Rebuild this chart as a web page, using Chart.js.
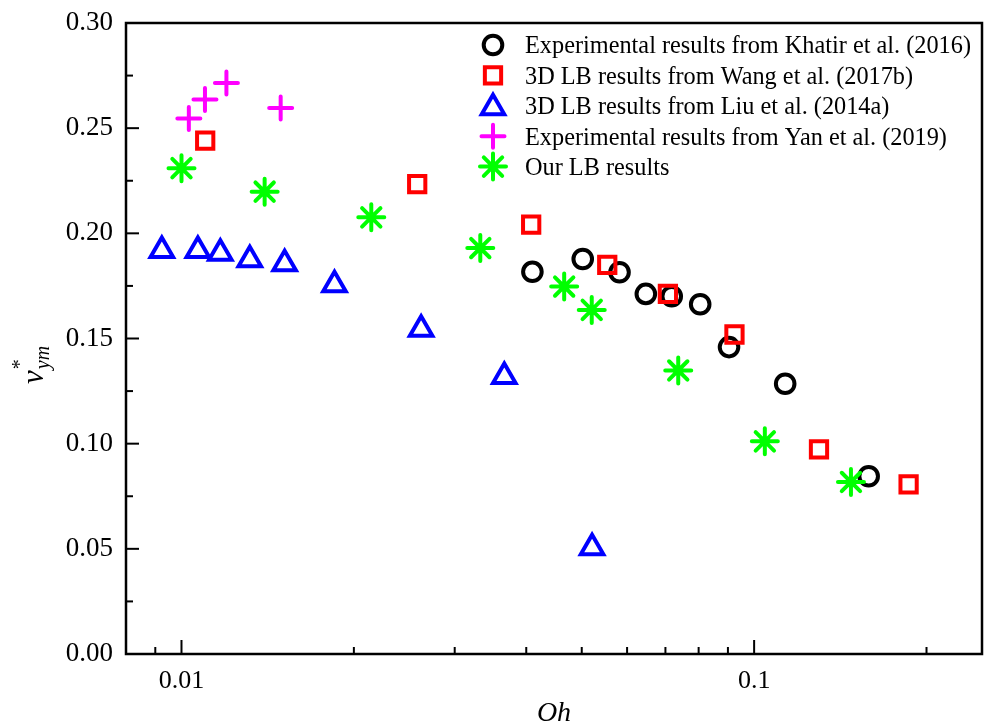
<!DOCTYPE html>
<html>
<head>
<meta charset="utf-8">
<script src="https://cdn.jsdelivr.net/npm/chart.js@4.4.1/dist/chart.umd.min.js"></script>
<style>
    html, body { margin: 0; padding: 0; background: #fff; overflow: hidden; }
    canvas { display: block; }
</style>
</head>
<body>
<canvas id="chart" width="988" height="724"></canvas>
<script>
// Data (Oh, v*_ym)
const khatirOh = [0.0410, 0.0502, 0.0582, 0.0647, 0.0718, 0.0805, 0.0904, 0.1133, 0.1585];
const khatirV  = [0.1817, 0.1878, 0.1815, 0.1712, 0.1701, 0.1663, 0.1459, 0.1285, 0.0845];

const wangOh = [0.0110, 0.0258, 0.0408, 0.0554, 0.0707, 0.0924, 0.1298, 0.1861];
const wangV  = [0.2441, 0.2234, 0.2041, 0.1850, 0.1712, 0.1519, 0.0973, 0.0806];

const liuOh = [0.00924, 0.01068, 0.01169, 0.01316, 0.01514, 0.01850, 0.02621, 0.03662, 0.05212];
const liuV  = [0.1918, 0.1918, 0.1905, 0.1874, 0.1855, 0.1755, 0.1544, 0.1319, 0.0505];

const yanOh = [0.01030, 0.01099, 0.01198, 0.01490];
const yanV  = [0.2546, 0.2636, 0.2715, 0.2596];

const oursOh = [0.01000, 0.01397, 0.02145, 0.03325, 0.04659, 0.05205, 0.07370, 0.1044, 0.1476];
const oursV  = [0.2310, 0.2198, 0.2076, 0.1930, 0.1747, 0.1636, 0.1348, 0.1011, 0.0818];

const seriesLabels = [
    'Experimental results from Khatir et al. (2016)',
    '3D LB results from Wang et al. (2017b)',
    '3D LB results from Liu et al. (2014a)',
    'Experimental results from Yan et al. (2019)',
    'Our LB results'
];

// Axis ticks
const xTickValues = [0.009, 0.01, 0.02, 0.03, 0.04, 0.05, 0.06, 0.07, 0.08, 0.09, 0.1, 0.2];
const xMajorTicks = [0.01, 0.1];
const yTickStep = 0.025;

const serif = '"Liberation Serif", "Times New Roman", serif';

function pairs(xs, ys) {
    return xs.map((x, i) => ({ x: x, y: ys[i] }));
}

function isMajorY(v) {
    return Math.abs(Math.round(v * 1000) % 50) === 0;
}

function makeSet(label, xs, ys, color, style, radius, order) {
    return {
        label: label,
        data: pairs(xs, ys),
        pointStyle: style,
        pointRadius: radius,
        pointHoverRadius: radius,
        pointBorderWidth: 4,
        pointBorderColor: color,
        pointBackgroundColor: 'rgba(0,0,0,0)',
        borderColor: color,
        backgroundColor: 'rgba(0,0,0,0)',
        showLine: false,
        order: order
    };
}

// Frame, inward ticks, axis titles and legend
const decorPlugin = {
    id: 'decor',
    beforeDatasetsDraw(chart) {
        chart.ctx.save();
        chart.ctx.lineCap = 'round';
    },
    afterDatasetsDraw(chart) {
        chart.ctx.restore();
    },
    afterDraw(chart) {
        const ctx = chart.ctx;
        const area = chart.chartArea;
        const xs = chart.scales.x;
        const ys = chart.scales.y;
        ctx.save();
        ctx.strokeStyle = '#000';

        // ticks pointing into the plot
        ctx.lineWidth = 2;
        xs.ticks.forEach(t => {
            const px = xs.getPixelForValue(t.value);
            const len = xMajorTicks.includes(t.value) ? 14 : 7;
            ctx.beginPath();
            ctx.moveTo(px, area.bottom);
            ctx.lineTo(px, area.bottom - len);
            ctx.stroke();
        });
        ys.ticks.forEach(t => {
            const py = ys.getPixelForValue(t.value);
            const len = isMajorY(t.value) ? 13 : 7;
            ctx.beginPath();
            ctx.moveTo(area.left, py);
            ctx.lineTo(area.left + len, py);
            ctx.stroke();
        });

        // frame
        ctx.lineWidth = 2.5;
        ctx.strokeRect(area.left, area.top, area.right - area.left, area.bottom - area.top);

        // x title
        ctx.fillStyle = '#000';
        ctx.textAlign = 'center';
        ctx.textBaseline = 'alphabetic';
        ctx.font = 'italic 28px ' + serif;
        ctx.fillText('Oh', (area.left + area.right) / 2, 721);

        // y title: v with superscript * and subscript ym, rotated
        ctx.save();
        ctx.translate(43, 384);
        ctx.rotate(-Math.PI / 2);
        ctx.textAlign = 'left';
        ctx.font = 'italic 31px ' + serif;
        ctx.fillText('v', 0, 0);
        const vw = ctx.measureText('v').width;
        ctx.font = '20px ' + serif;
        ctx.fillText('*', vw + 1, -17);
        ctx.font = 'italic 20px ' + serif;
        ctx.fillText('ym', vw + 1, 6);
        ctx.restore();

        // legend
        ctx.lineCap = 'round';
        ctx.font = '24.3px ' + serif;
        ctx.textAlign = 'left';
        chart.data.datasets.forEach((ds, i) => {
            const y = 45 + i * 30.4;
            ctx.strokeStyle = ds.pointBorderColor;
            ctx.fillStyle = 'rgba(0,0,0,0)';
            ctx.lineWidth = ds.pointBorderWidth;
            Chart.helpers.drawPoint(ctx, {
                pointStyle: ds.pointStyle,
                radius: ds.pointRadius,
                rotation: 0,
                borderWidth: ds.pointBorderWidth
            }, 493, y + (ds.pointStyle === 'triangle' ? 2 : 0));
            ctx.fillStyle = '#000';
            ctx.fillText(ds.label, 525, y + 8.3);
        });
        ctx.restore();
    }
};

const ctx = document.getElementById('chart').getContext('2d');
const chart = new Chart(ctx, {
    type: 'scatter',
    data: {
        datasets: [
            makeSet(seriesLabels[0], khatirOh, khatirV, '#000000', 'circle', 9.3, 5),
            makeSet(seriesLabels[1], wangOh, wangV, '#ff0000', 'rect', 11.5, 4),
            makeSet(seriesLabels[2], liuOh, liuV, '#0000ff', 'triangle', 13, 3),
            makeSet(seriesLabels[3], yanOh, yanV, '#ff00ff', 'cross', 11.5, 2),
            makeSet(seriesLabels[4], oursOh, oursV, '#00ff00', 'star', 13, 1)
        ]
    },
    options: {
        responsive: false,
        animation: false,
        devicePixelRatio: 1,
        layout: {
            autoPadding: false,
            padding: { top: 23, right: 6, bottom: 0, left: 0 }
        },
        plugins: {
            legend: { display: false },
            tooltip: { enabled: false }
        },
        scales: {
            x: {
                type: 'logarithmic',
                min: 0.008,
                max: 0.25,
                afterBuildTicks: function (scale) {
                    scale.ticks = xTickValues.map(v => ({ value: v }));
                },
                afterFit: function (scale) {
                    scale.height = 70;
                    scale.paddingLeft = 0;
                    scale.paddingRight = 0;
                },
                grid: { display: false, drawTicks: false },
                border: { display: false },
                ticks: {
                    autoSkip: false,
                    maxRotation: 0,
                    padding: 12,
                    color: '#000',
                    font: { family: serif, size: 26 },
                    callback: function (value) {
                        return xMajorTicks.includes(value) ? String(value) : '';
                    }
                }
            },
            y: {
                min: 0,
                max: 0.3,
                afterFit: function (scale) {
                    scale.width = 126;
                    scale.paddingTop = 0;
                    scale.paddingBottom = 0;
                },
                grid: { display: false, drawTicks: false },
                border: { display: false },
                ticks: {
                    stepSize: yTickStep,
                    autoSkip: false,
                    padding: 13,
                    color: '#000',
                    font: { family: serif, size: 27 },
                    callback: function (value) {
                        return isMajorY(value) ? value.toFixed(2) : '';
                    }
                }
            }
        }
    },
    plugins: [decorPlugin]
});
</script>
</body>
</html>
